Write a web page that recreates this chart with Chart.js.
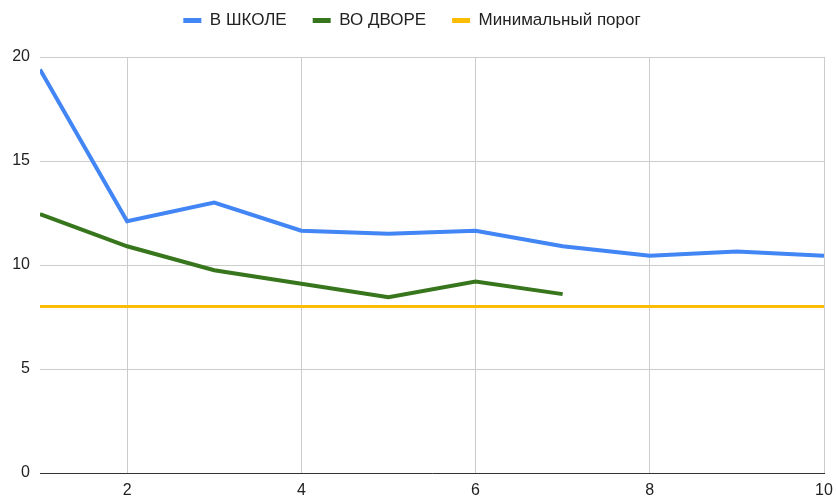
<!DOCTYPE html>
<html>
<head>
<meta charset="utf-8">
<script src="https://cdn.jsdelivr.net/npm/chart.js@4.4.1/dist/chart.umd.min.js"></script>
<style>
  html, body { margin: 0; padding: 0; background: #fff; }
  #wrap { width: 836px; height: 499px; }
</style>
</head>
<body>
<div id="wrap"><canvas id="chart"></canvas></div>
<script>
const days = [1, 2, 3, 4, 5, 6, 7, 8, 9, 10];
const vShkole = [19.4, 12.1, 13.0, 11.65, 11.5, 11.65, 10.9, 10.45, 10.65, 10.45];
const voDvore = [12.45, 10.9, 9.75, 9.1, 8.45, 9.2, 8.6, null, null, null];
const minPorog = [8, 8, 8, 8, 8, 8, 8, 8, 8, 8];
const xTicks = [2, 4, 6, 8, 10];
const yTicks = [0, 5, 10, 15, 20];

const toPoints = arr => days.map((d, i) => ({ x: d, y: arr[i] }));
const font = { family: 'Liberation Sans, Arial, sans-serif', size: 16 };

// legend sits higher than chart.js puts it
const liftLegend = {
  id: 'liftLegend',
  afterLayout(chart) {
    chart.legend.top -= 18;
    chart.legend.bottom -= 18;
  },
};

const ctx = document.getElementById('chart').getContext('2d');
new Chart(ctx, {
  type: 'line',
  plugins: [liftLegend],
  data: {
    datasets: [
      {
        label: 'В ШКОЛЕ',
        data: toPoints(vShkole),
        borderColor: '#4285F4',
        backgroundColor: '#4285F4',
        borderWidth: 4,
        pointRadius: 0,
      },
      {
        label: 'ВО ДВОРЕ',
        data: toPoints(voDvore),
        borderColor: '#38761D',
        backgroundColor: '#38761D',
        borderWidth: 4,
        pointRadius: 0,
        spanGaps: false,
      },
      {
        label: 'Минимальный порог',
        data: toPoints(minPorog),
        borderColor: '#FBBC04',
        backgroundColor: '#FBBC04',
        borderWidth: 3,
        pointRadius: 0,
      },
    ],
  },
  options: {
    responsive: true,
    maintainAspectRatio: false,
    animation: false,
    layout: { padding: { left: 0, right: 12, top: 4, bottom: 0 } },
    plugins: {
      tooltip: { enabled: false },
      legend: {
        position: 'top',
        labels: {
          boxWidth: 18,
          boxHeight: 5,
          padding: 26,
          color: '#222',
          font: { family: 'Liberation Sans, Arial, sans-serif', size: 17 },
          generateLabels: chart => {
            const items = Chart.defaults.plugins.legend.labels.generateLabels(chart);
            items.forEach(it => { it.lineWidth = 0; });
            return items;
          },
        },
      },
    },
    scales: {
      x: {
        type: 'linear',
        min: 1,
        max: 10,
        afterBuildTicks: s => { s.ticks = xTicks.map(v => ({ value: v })); },
        afterFit: s => { s.paddingLeft = 0; s.paddingRight = 0; s.height = 26; },
        grid: { color: '#CCCCCC', drawTicks: false, lineWidth: 1 },
        border: { display: true, color: '#333333', width: 1 },
        ticks: { padding: 8, color: '#222', font, maxRotation: 0 },
      },
      y: {
        min: 0,
        max: 20,
        afterBuildTicks: s => { s.ticks = yTicks.map(v => ({ value: v })); },
        afterFit: s => { s.width = 40; s.paddingTop = 0; s.paddingBottom = 0; },
        grid: { color: '#CCCCCC', drawTicks: false, lineWidth: 1 },
        border: { display: false },
        ticks: { padding: 10, color: '#222', font },
      },
    },
  },
});
</script>
</body>
</html>
